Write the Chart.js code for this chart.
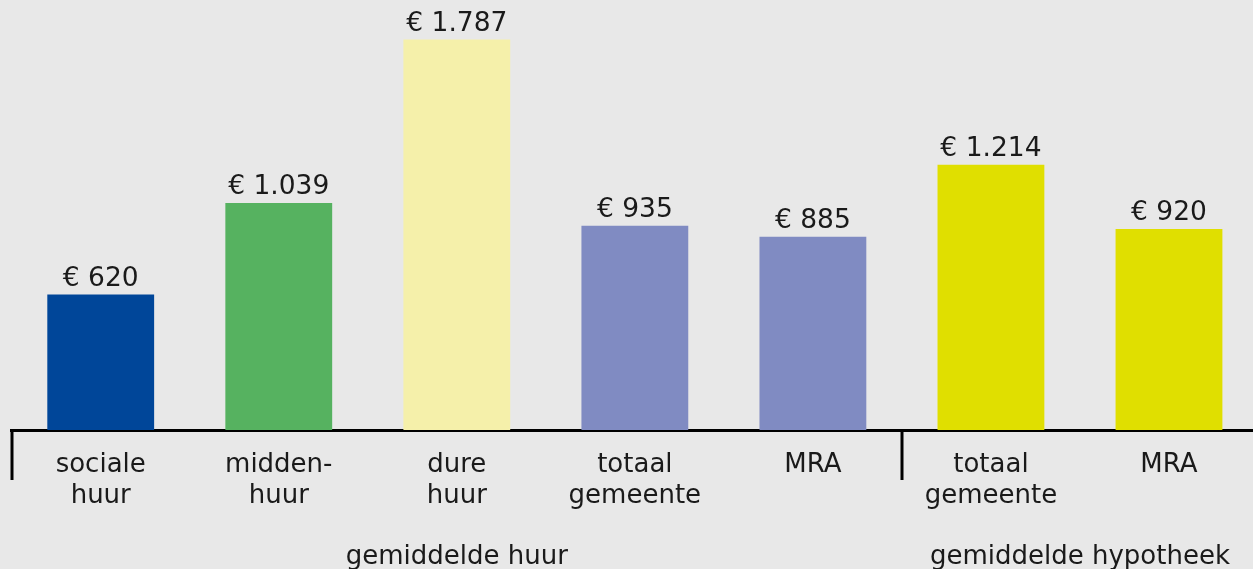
<!DOCTYPE html>
<html><head><meta charset="utf-8">
<script src="https://cdn.jsdelivr.net/npm/chart.js@4"></script>
<style>html,body{margin:0;padding:0;background:#e8e8e8;overflow:hidden;width:1253px;height:569px}canvas{display:block}</style>
</head><body>
<canvas id="c" width="1258" height="569"></canvas>
<script>
const categories = [["sociale","huur"],["midden-","huur"],["dure","huur"],["totaal","gemeente"],["MRA"],["totaal","gemeente"],["MRA"]];
const values = [620, 1039, 1787, 935, 885, 1214, 920];
const barColors = ["#004699", "#56b260", "#f5f0aa", "#808bc2", "#808bc2", "#e0df00", "#e0df00"];
const groupLabels = ["gemiddelde huur", "gemiddelde hypotheek"];
const groupStart = [0, 5];
const groupEnd = [4, 6];

const FONT = "DejaVu Sans";
const TXT = "#1a1a1a";
function fmt(v){ return "€ " + String(v).replace(/\B(?=(\d{3})+(?!\d))/g, "."); }

const extras = {
  id: "extras",
  afterDatasetsDraw(chart){
    const ctx = chart.ctx, meta = chart.getDatasetMeta(0);
    ctx.save();
    ctx.fillStyle = TXT;
    ctx.font = "26.5px '" + FONT + "'";
    ctx.textAlign = "center"; ctx.textBaseline = "alphabetic";
    meta.data.forEach((b, i) => ctx.fillText(fmt(values[i]), b.x, b.y - 9));
    ctx.restore();
  },
  afterDraw(chart){
    const ctx = chart.ctx, xs = chart.scales.x, area = chart.chartArea;
    const half = (xs.getPixelForValue(1) - xs.getPixelForValue(0)) / 2;
    ctx.save();
    ctx.strokeStyle = "#000"; ctx.lineWidth = 3;
    groupStart.forEach(s => {
      const x = Math.round(xs.getPixelForValue(s) - half);
      ctx.beginPath(); ctx.moveTo(x, area.bottom); ctx.lineTo(x, area.bottom + 50); ctx.stroke();
    });
    ctx.fillStyle = TXT;
    ctx.font = "26px '" + FONT + "'";
    ctx.textAlign = "center"; ctx.textBaseline = "alphabetic";
    groupLabels.forEach((g, i) => {
      const cx = (xs.getPixelForValue(groupStart[i]) + xs.getPixelForValue(groupEnd[i])) / 2;
      ctx.fillText(g, cx, 564);
    });
    ctx.restore();
  }
};

new Chart(document.getElementById("c"), {
  type: "bar",
  data: { labels: categories, datasets: [{ data: values, backgroundColor: barColors, barPercentage: 0.6, categoryPercentage: 1 }] },
  options: {
    responsive: false, animation: false, devicePixelRatio: 1,
    layout: { padding: { left: 11.7, right: 0, top: 0, bottom: 0 } },
    plugins: { legend: { display: false }, tooltip: { enabled: false } },
    scales: {
      y: { display: false, min: 0, max: 1968 },
      x: {
        grid: { display: false, drawTicks: false },
        border: { display: true, color: "#000", width: 3 },
        ticks: { color: TXT, font: { family: FONT, size: 26, lineHeight: "31px" }, padding: 20, maxRotation: 0, autoSkip: false },
        afterFit(s){ s.height = 139; }
      }
    }
  },
  plugins: [extras]
});
</script>
</body></html>
